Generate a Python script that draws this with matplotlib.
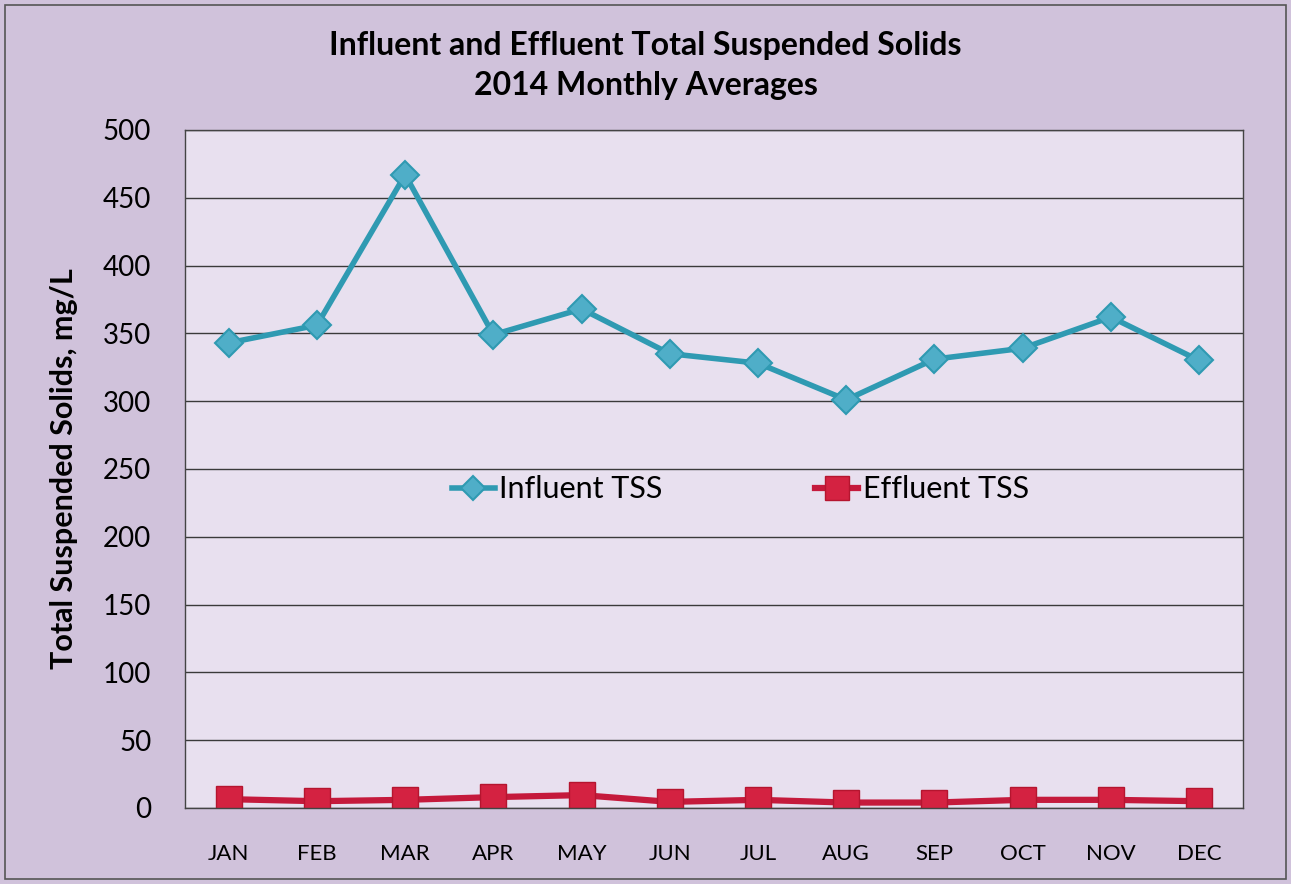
import matplotlib.pyplot as plt
from matplotlib.patches import Rectangle

months = ["JAN", "FEB", "MAR", "APR", "MAY", "JUN",
          "JUL", "AUG", "SEP", "OCT", "NOV", "DEC"]
influent_tss = [343, 356, 467, 349, 368, 335, 328, 301, 331, 339, 362, 330]
effluent_tss = [6.5, 5, 6, 8, 9.5, 4.5, 6, 4, 4, 6, 6, 5]
y_ticks = [0, 50, 100, 150, 200, 250, 300, 350, 400, 450, 500]

plt.rcParams["font.family"] = ["Lato", "DejaVu Sans"]

fig = plt.figure(figsize=(12.91, 8.84), dpi=100, facecolor="#d0c2db")
ax = fig.add_axes([0.143, 0.086, 0.820, 0.767])
ax.set_facecolor("#e8e0ef")

# outer border of the chart
fig.patches.append(Rectangle((0.004, 0.006), 0.992, 0.988, transform=fig.transFigure,
                             fill=False, edgecolor="#555555", linewidth=1.2))

x = range(len(months))
ax.plot(x, influent_tss, color="#2f9ab2", linewidth=4, marker="D",
        markersize=14, markerfacecolor="#4faec8", markeredgecolor="#2f9ab2",
        markeredgewidth=1.5, label="Influent TSS")
ax.plot(x, effluent_tss, color="#c51a3c", linewidth=4.5, marker="s",
        markersize=19, markerfacecolor="#d42241", markeredgecolor="#b5152f",
        label="Effluent TSS")

ax.set_xlim(-0.5, len(months) - 0.5)
ax.set_ylim(0, 500)
ax.set_yticks(y_ticks)
ax.set_xticks(list(x))
ax.set_xticklabels(months)
ax.tick_params(axis="y", labelsize=20, length=0, pad=24)
ax.tick_params(axis="x", labelsize=16, length=0, pad=26)
ax.yaxis.grid(True, color="#3a3a3a", linewidth=1.0)
ax.set_axisbelow(True)
for side in ["top", "left", "right", "bottom"]:
    ax.spines[side].set_color("#444444")
    ax.spines[side].set_linewidth(1.0)

ax.set_ylabel("Total Suspended Solids, mg/L", fontsize=22, fontweight="bold", labelpad=18)
fig.suptitle("Influent and Effluent Total Suspended Solids\n2014 Monthly Averages",
             fontsize=23, fontweight="bold", y=0.965, linespacing=1.45)

ax.legend(loc="center", bbox_to_anchor=(0.525, 0.47), ncol=2, frameon=False,
          fontsize=22, columnspacing=5, handlelength=1.4, handletextpad=0.15,
          markerscale=0.9)

fig.savefig("out.png", dpi=100, facecolor=fig.get_facecolor())
